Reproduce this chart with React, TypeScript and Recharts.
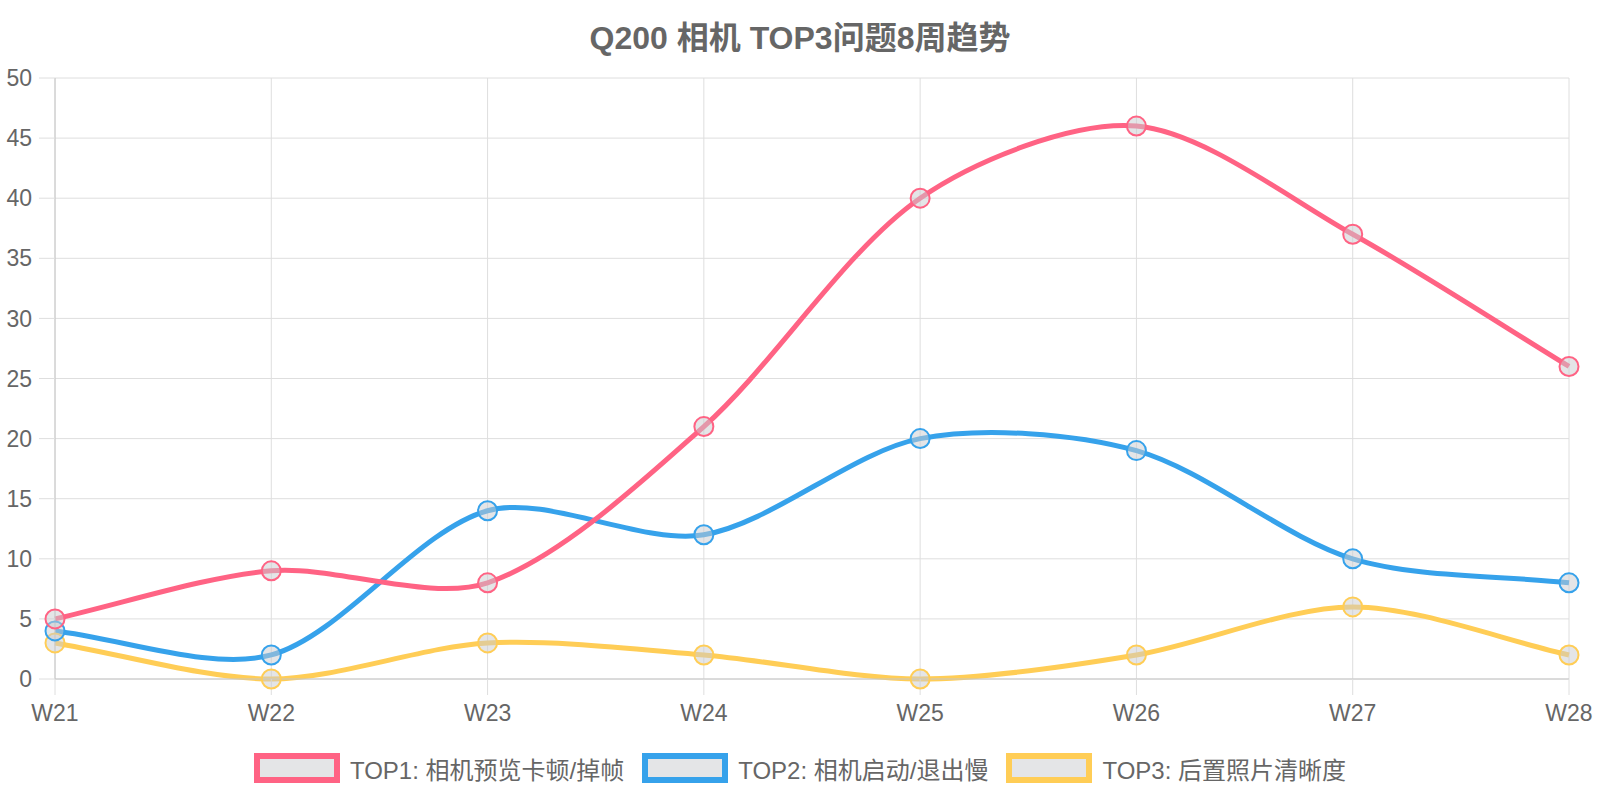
import React from 'react'
import { LineChart, Line, XAxis, YAxis, CartesianGrid } from 'recharts'

const weeks = ['W21', 'W22', 'W23', 'W24', 'W25', 'W26', 'W27', 'W28']
const top1Values = [5, 9, 8, 21, 40, 46, 37, 26]
const top2Values = [4, 2, 14, 12, 20, 19, 10, 8]
const top3Values = [3, 0, 3, 2, 0, 2, 6, 2]
const yTicks = [0, 5, 10, 15, 20, 25, 30, 35, 40, 45, 50]
const seriesNames = ['TOP1: 相机预览卡顿/掉帧', 'TOP2: 相机启动/退出慢', 'TOP3: 后置照片清晰度']
const seriesColors = ['#ff6384', '#36a2eb', '#ffcd56']
const titleText = 'Q200 相机 TOP3问题8周趋势'

const FONT = '"Liberation Sans", Arial, "Noto Sans CJK SC", sans-serif'
const POINT_FILL = 'rgba(201,203,207,0.5)'

const data = weeks.map((w, i) => ({
	week: w,
	top1: top1Values[i],
	top2: top2Values[i],
	top3: top3Values[i],
}))

// spline like chart.js
const splineCurve = (context: any) => {
	let pts: number[][] = []
	const t = 0.3
	return {
		areaStart() {},
		areaEnd() {},
		lineStart() {
			pts = []
		},
		point(x: number, y: number) {
			pts.push([+x, +y])
		},
		lineEnd() {
			const n = pts.length
			if (!n) return
			context.moveTo(pts[0][0], pts[0][1])
			if (n === 1) return
			const cps = pts.map((p, i) => {
				const prev = pts[Math.max(0, i - 1)]
				const next = pts[Math.min(n - 1, i + 1)]
				const d01 = Math.hypot(p[0] - prev[0], p[1] - prev[1])
				const d12 = Math.hypot(next[0] - p[0], next[1] - p[1])
				let s01 = d01 / (d01 + d12)
				let s12 = d12 / (d01 + d12)
				if (isNaN(s01)) s01 = 0
				if (isNaN(s12)) s12 = 0
				const fa = t * s01
				const fb = t * s12
				return {
					px: p[0] - fa * (next[0] - prev[0]),
					py: p[1] - fa * (next[1] - prev[1]),
					nx: p[0] + fb * (next[0] - prev[0]),
					ny: p[1] + fb * (next[1] - prev[1]),
				}
			})
			for (let i = 1; i < n; i++) {
				context.bezierCurveTo(cps[i - 1].nx, cps[i - 1].ny, cps[i].px, cps[i].py, pts[i][0], pts[i][1])
			}
		},
	}
}

const keys = ['top1', 'top2', 'top3']

export default function App() {
	return (
		<div style={{ position: 'absolute', left: 0, top: 0, width: 1600, height: 800, background: '#fff', fontFamily: FONT }}>
			<div
				style={{
					position: 'absolute',
					top: 22,
					left: 0,
					width: 1600,
					textAlign: 'center',
					fontSize: 32,
					lineHeight: '32px',
					fontWeight: 'bold',
					color: '#666',
				}}
			>
				{titleText}
			</div>
			<LineChart width={1600} height={800} data={data} margin={{ top: 78, right: 31, bottom: 81, left: 0 }}>
				<CartesianGrid stroke="#dedede" strokeWidth={1} />
				<XAxis
					dataKey="week"
					height={40}
					tickSize={16}
					tickMargin={10}
					tickLine={{ stroke: '#dedede' }}
					axisLine={{ stroke: '#c6c6c6' }}
					tick={{ fill: '#666', fontSize: 23, fontFamily: FONT }}
					interval={0}
				/>
				<YAxis
					width={55}
					domain={[0, 50]}
					ticks={yTicks}
					tickSize={16}
					tickMargin={7}
					tickLine={{ stroke: '#dedede' }}
					axisLine={{ stroke: '#c6c6c6' }}
					tick={{ fill: '#666', fontSize: 23, fontFamily: FONT }}
					interval={0}
				/>
				{[2, 1, 0].map((i) => (
					<Line
						key={keys[i]}
						dataKey={keys[i]}
						name={seriesNames[i]}
						type={splineCurve as any}
						stroke={seriesColors[i]}
						strokeWidth={5}
						dot={{ r: 9.5, fill: POINT_FILL, stroke: seriesColors[i], strokeWidth: 2 }}
						activeDot={false}
						isAnimationActive={false}
					/>
				))}
			</LineChart>
			<div
				style={{
					position: 'absolute',
					top: 753,
					left: 0,
					width: 1600,
					height: 30,
					display: 'flex',
					justifyContent: 'center',
					alignItems: 'center',
				}}
			>
				{seriesNames.map((name, i) => (
					<div key={name} style={{ display: 'flex', alignItems: 'center', marginLeft: i === 0 ? 0 : 18 }}>
						<div
							style={{
								width: 86,
								height: 30,
								boxSizing: 'border-box',
								border: `6px solid ${seriesColors[i]}`,
								background: '#e4e5e7',
								marginRight: 10,
							}}
						/>
						<span style={{ fontSize: 24, color: '#666', whiteSpace: 'nowrap' }}>{name}</span>
					</div>
				))}
			</div>
		</div>
	)
}
